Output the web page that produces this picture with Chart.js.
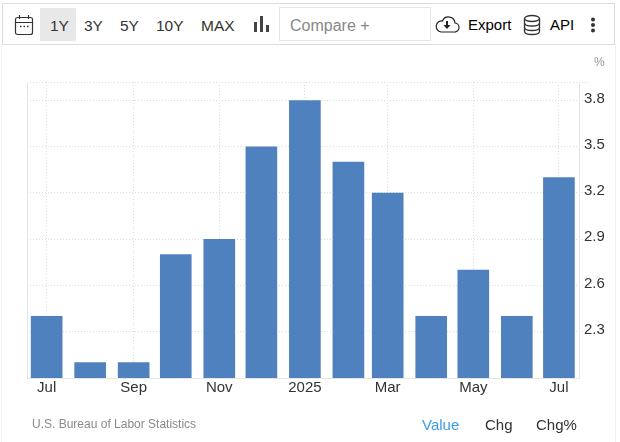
<!DOCTYPE html>
<html>
<head>
<meta charset="utf-8">
<script src="https://cdn.jsdelivr.net/npm/chart.js@4"></script>
<style>
html, body { margin: 0; padding: 0; background: #fff; overflow: hidden; }
body { width: 620px; height: 442px; position: relative; font-family: Arial, "Liberation Sans", sans-serif; }
#chart { position: absolute; left: 0; top: 0; }
.page { position: absolute; left: 1px; top: 44px; width: 613px; height: 398px; border-left: 1px solid #f2f2f2; border-right: 1px solid #f2f2f2; }
.bar { position: absolute; left: 2px; top: 3px; width: 611px; height: 40px; border: 1px solid #ddd; box-sizing: content-box; }
.t { position: absolute; white-space: nowrap; line-height: 1; }
.btn { font-size: 15.5px; color: #333; top: 18px; }
.sel { position: absolute; left: 40px; top: 8px; width: 36px; height: 33px; background: #e8e8e8; }
.cmp { position: absolute; left: 279px; top: 7px; width: 150px; height: 32px; border: 1px solid #e6e6e0; }
svg { position: absolute; }
</style>
</head>
<body>
<div class="page"></div>
<div class="bar"></div>
<div class="sel"></div>
<div class="cmp"></div>

<svg style="left:14px;top:14px" width="20" height="22" fill="none" stroke="#333" stroke-width="1.2">
  <rect x="1.5" y="3.5" width="17" height="17" rx="2"/>
  <path d="M1.5 8.5h17M5.5 1v4M14.5 1v4"/>
  <path d="M6 12.5h1.5M9.5 12.5h1.5M13 12.5h1.5" stroke-width="1.6"/>
</svg>
<span class="t btn" style="left:50px">1Y</span>
<span class="t btn" style="left:84px">3Y</span>
<span class="t btn" style="left:120px">5Y</span>
<span class="t btn" style="left:156px">10Y</span>
<span class="t btn" style="left:201px">MAX</span>
<svg style="left:252px;top:15px" width="18" height="18" fill="#444">
  <rect x="2" y="7" width="3" height="10"/><rect x="8" y="1" width="3" height="16"/><rect x="14" y="10" width="3" height="7"/>
</svg>
<span class="t" style="left:290px;top:18px;font-size:16px;color:#888">Compare +</span>
<svg style="left:434px;top:14px" width="26" height="20" fill="none" stroke="#222" stroke-width="1.2">
  <path d="M7 18h13a4.5 4.5 0 0 0 1-9 6.5 6.5 0 0 0-12.500-2A5.500 5.500 0 0 0 7 18z"/>
  <path d="M13 7v5" stroke-width="2"/><path d="M9.500 11h7L13 15z" fill="#222" stroke="none"/>
</svg>
<span class="t" style="left:468px;top:17px;font-size:15px;color:#000">Export</span>
<svg style="left:522px;top:14px" width="20" height="22" fill="none" stroke="#333" stroke-width="1.3">
  <ellipse cx="10" cy="4.500" rx="7.500" ry="3"/>
  <path d="M2.500 4.500v13c0 1.700 3.400 3 7.500 3s7.500-1.300 7.500-3v-13"/>
  <path d="M2.500 9c0 1.700 3.400 3 7.500 3s7.500-1.300 7.500-3M2.500 13.500c0 1.700 3.400 3 7.500 3s7.500-1.300 7.500-3"/>
</svg>
<span class="t" style="left:550px;top:17px;font-size:15px;color:#000">API</span>
<svg style="left:590px;top:17px" width="6" height="16" fill="#333">
  <circle cx="3" cy="2.500" r="2"/><circle cx="3" cy="8" r="2"/><circle cx="3" cy="13.500" r="2"/>
</svg>

<canvas id="chart" width="620" height="442"></canvas>

<span class="t" style="left:594px;top:56px;font-size:12px;color:#999">%</span>
<span class="t" style="left:32px;top:418px;font-size:12px;color:#8a8a8a">U.S. Bureau of Labor Statistics</span>
<span class="t" style="left:422px;top:417px;font-size:15px;color:#3c9be8">Value</span>
<span class="t" style="left:485px;top:417px;font-size:15px;color:#333">Chg</span>
<span class="t" style="left:536px;top:417px;font-size:15px;color:#333">Chg%</span>

<script>
const months = ['2024-07-01', '2024-08-01', '2024-09-01', '2024-10-01', '2024-11-01', '2024-12-01',
    '2025-01-01', '2025-02-01', '2025-03-01', '2025-04-01', '2025-05-01', '2025-06-01', '2025-07-01'];
const rates = [2.4, 2.1, 2.1, 2.8, 2.9, 3.5, 3.8, 3.4, 3.2, 2.4, 2.7, 2.4, 3.3];
const xTickDates = ['2024-07-01', '2024-09-01', '2024-11-01', '2025-01-01', '2025-03-01', '2025-05-01', '2025-07-01'];
const xTickLabels = ['Jul', 'Sep', 'Nov', '2025', 'Mar', 'May', 'Jul'];
const yTicks = [2.3, 2.6, 2.9, 3.2, 3.5, 3.8];

const DAY = 86400000;
const xTicks = xTickDates.map(d => Date.parse(d));
const yMax = 3.92;

// light frame left and right of the plot, like the original
const frame = {
    id: 'frame',
    beforeDatasetsDraw(chart) {
        const { ctx, chartArea: a } = chart;
        ctx.save();
        ctx.strokeStyle = '#e6e6e6';
        ctx.lineWidth = 1;
        ctx.beginPath();
        ctx.moveTo(a.left + 0.5, a.top);
        ctx.lineTo(a.left + 0.5, a.bottom);
        ctx.moveTo(a.right + 0.5, a.top);
        ctx.lineTo(a.right + 0.5, a.bottom);
        ctx.stroke();
        ctx.restore();
    }
};

new Chart(document.getElementById('chart').getContext('2d'), {
    type: 'bar',
    data: {
        datasets: [{
            data: months.map((m, i) => ({ x: Date.parse(m), y: rates[i] })),
            backgroundColor: '#4e81bd',
            barThickness: 31
        }]
    },
    options: {
        responsive: false,
        animation: false,
        layout: { padding: { left: 27, right: 0, top: 82, bottom: 0 } },
        plugins: { legend: { display: false }, tooltip: { enabled: false } },
        scales: {
            x: {
                type: 'linear',
                offset: false,
                min: Date.parse('2024-07-01') - 14 * DAY,
                max: Date.parse('2025-07-01') + 14.3 * DAY,
                afterBuildTicks: s => { s.ticks = xTicks.map(v => ({ value: v })); },
                afterFit: s => { s.height = 64; },
                border: { color: '#e6e6e6', dash: [1, 2] },
                grid: { color: '#dcdcdc', drawTicks: false, offset: false },
                ticks: {
                    autoSkip: false,
                    maxRotation: 0,
                    padding: 1,
                    color: '#333',
                    font: { family: 'Arial, "Liberation Sans"', size: 15 },
                    callback: v => xTickLabels[xTicks.indexOf(v)]
                }
            },
            y: {
                position: 'right',
                min: 2,
                max: yMax,
                afterBuildTicks: s => { s.ticks = [...yTicks, yMax].map(v => ({ value: v })); },
                afterFit: s => { s.width = 41; },
                border: { display: false, dash: [1, 2] },
                grid: { color: '#dcdcdc', tickLength: 10, tickBorderDash: [1, 2] },
                ticks: {
                    padding: -5,
                    labelOffset: -2,
                    color: '#333',
                    font: { family: 'Arial, "Liberation Sans"', size: 15 },
                    callback: v => yTicks.includes(v) ? v.toFixed(1) : ''
                }
            }
        }
    },
    plugins: [frame]
});
</script>
</body>
</html>
